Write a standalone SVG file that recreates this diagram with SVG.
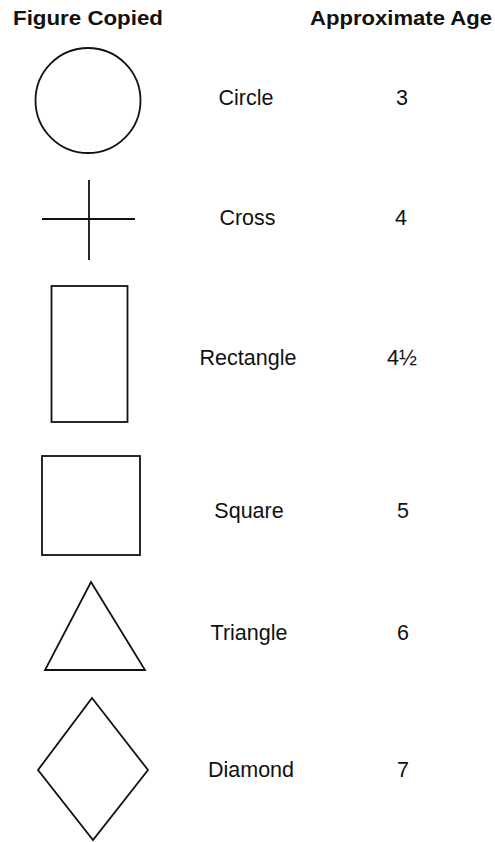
<svg xmlns="http://www.w3.org/2000/svg" width="495" height="842" viewBox="0 0 495 842">
<style>
.hd{font-family:"Liberation Sans",Arial,sans-serif;font-weight:bold;font-size:19.5px;fill:#111}
.lb{font-family:"Liberation Sans",Arial,sans-serif;font-size:21.5px;fill:#111;text-anchor:middle}
.sh{fill:none;stroke:#111;stroke-width:1.8;stroke-linejoin:miter}
</style>
<rect width="495" height="842" fill="#fff"/>
<g id="header">
<text class="hd" x="13" y="25" textLength="150" lengthAdjust="spacingAndGlyphs">Figure Copied</text>
<text class="hd" x="310" y="25" textLength="182" lengthAdjust="spacingAndGlyphs">Approximate Age</text>
</g>
<g id="circle">
<circle class="sh" cx="88" cy="100.5" r="52.5" stroke-width="1.6"/>
<text class="lb" x="246" y="105">Circle</text>
<text class="lb" x="402" y="105">3</text>
</g>
<g id="cross">
<line class="sh" x1="42" y1="219" x2="135" y2="219" stroke-width="2"/>
<line class="sh" x1="89" y1="180" x2="89" y2="260" stroke-width="2"/>
<text class="lb" x="247.5" y="225">Cross</text>
<text class="lb" x="401" y="225">4</text>
</g>
<g id="rectangle">
<rect class="sh" x="51.5" y="286" width="76" height="136" stroke-width="1.5"/>
<text class="lb" x="248" y="365">Rectangle</text>
<text class="lb" x="402" y="365">4½</text>
</g>
<g id="square">
<rect class="sh" x="42" y="456" width="98" height="99" stroke-width="2"/>
<text class="lb" x="249" y="518">Square</text>
<text class="lb" x="403" y="518">5</text>
</g>
<g id="triangle">
<polygon class="sh" points="91,582 145,670 45,670"/>
<text class="lb" x="249" y="640">Triangle</text>
<text class="lb" x="403" y="640">6</text>
</g>
<g id="diamond">
<polygon class="sh" points="92,698 148,770 93,840 38,770" stroke-width="1.6"/>
<text class="lb" x="251" y="777">Diamond</text>
<text class="lb" x="403" y="777">7</text>
</g>
<g id="connectors"/>
</svg>
